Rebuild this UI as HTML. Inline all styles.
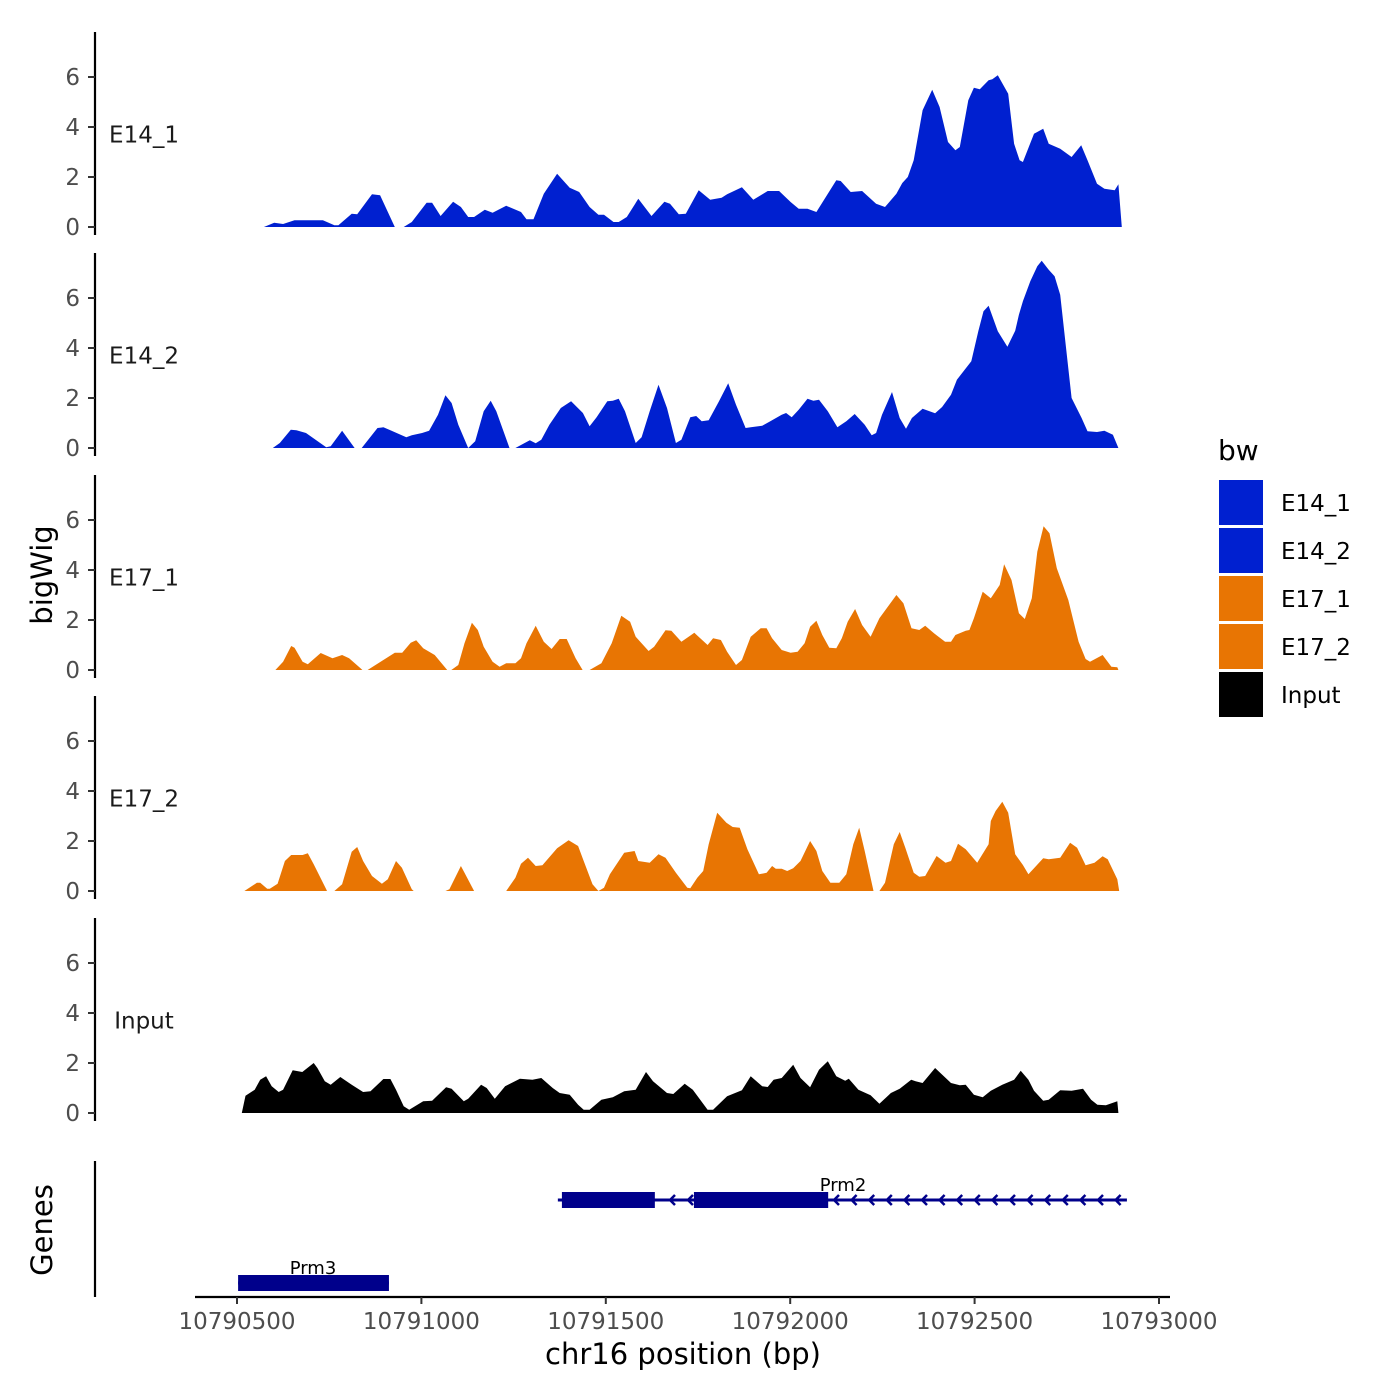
<!DOCTYPE html>
<html><head><meta charset="utf-8">
<style>
html,body{margin:0;padding:0;background:#fff;}
svg{display:block;font-family:"DejaVu Sans","Liberation Sans",sans-serif;}
</style></head>
<body>
<svg id="chart" width="1400" height="1400" viewBox="0 0 1400 1400" xmlns="http://www.w3.org/2000/svg">
<rect width="1400" height="1400" fill="#fff"/>
<g id="tracks"></g>
<g id="genes"></g>
<g id="axes"></g>
<text x="0" y="0" transform="translate(52,575) rotate(-90)" text-anchor="middle" font-size="29" fill="#000">bigWig</text>
<text x="0" y="0" transform="translate(52,1230) rotate(-90)" text-anchor="middle" font-size="29" fill="#000">Genes</text>
<text x="683" y="1364" text-anchor="middle" font-size="29" fill="#000">chr16 position (bp)</text>
<g>
<text x="1218" y="460" font-size="28" fill="#000">bw</text>
<rect x="1219" y="480" width="44" height="45" fill="#0020D0"/>
<rect x="1219" y="528" width="44" height="45" fill="#0020D0"/>
<rect x="1219" y="576" width="44" height="45" fill="#E87503"/>
<rect x="1219" y="624" width="44" height="45" fill="#E87503"/>
<rect x="1219" y="672" width="44" height="45" fill="#000"/>
<text x="1281" y="511" font-size="23" fill="#000">E14_1</text>
<text x="1281" y="559" font-size="23" fill="#000">E14_2</text>
<text x="1281" y="607" font-size="23" fill="#000">E17_1</text>
<text x="1281" y="655" font-size="23" fill="#000">E17_2</text>
<text x="1281" y="703" font-size="23" fill="#000">Input</text>
</g>
</svg>
<script>
const regionStart = 10790500;
const xTicks = [10790500, 10791000, 10791500, 10792000, 10792500, 10793000];
const xTickLabels = ["10790500", "10791000", "10791500", "10792000", "10792500", "10793000"];
const yTicks = [0, 2, 4, 6];
const trackNames = ["E14_1", "E14_2", "E17_1", "E17_2", "Input"];
const trackColors = ["#0020D0", "#0020D0", "#E87503", "#E87503", "#000000"];

// positions: bp offset from regionStart
const pos1 = [73,101,125,156,233,264,275,311,326,366,388,428,452,474,514,529,552,586,607,627,643,672,693,730,770,785,804,832,868,902,928,956,980,995,1021,1035,1057,1088,1124,1159,1174,1198,1217,1252,1283,1314,1329,1369,1400,1439,1470,1501,1523,1547,1571,1625,1637,1664,1695,1733,1757,1788,1804,1819,1835,1859,1885,1905,1928,1948,1960,1983,1998,2014,2038,2048,2063,2091,2107,2122,2131,2161,2186,2201,2232,2263,2289,2306,2332,2352,2380,2390,2399];
const val1 = [0,0.17,0.12,0.27,0.27,0.07,0.07,0.53,0.51,1.31,1.27,0,0,0.2,0.97,0.97,0.44,1.01,0.8,0.4,0.4,0.69,0.57,0.85,0.6,0.31,0.31,1.33,2.13,1.57,1.4,0.8,0.49,0.49,0.2,0.2,0.4,1.13,0.44,1.01,0.93,0.51,0.53,1.47,1.09,1.17,1.31,1.59,1.09,1.44,1.44,1.0,0.73,0.73,0.6,1.87,1.84,1.4,1.44,0.93,0.8,1.33,1.76,2.0,2.67,4.67,5.49,4.8,3.4,3.07,3.2,5.07,5.57,5.51,5.87,5.91,6.07,5.33,3.33,2.67,2.6,3.73,3.93,3.33,3.13,2.8,3.27,2.67,1.73,1.53,1.47,1.71,0];

const pos2 = [97,116,146,161,187,242,254,285,319,338,381,397,416,459,474,502,521,545,565,582,600,627,646,669,688,703,739,755,794,810,825,847,878,906,938,956,975,1004,1019,1035,1052,1081,1097,1119,1143,1166,1190,1205,1229,1245,1260,1279,1307,1332,1353,1379,1393,1424,1446,1477,1489,1504,1523,1547,1563,1578,1602,1628,1652,1675,1702,1721,1733,1749,1776,1797,1814,1830,1859,1893,1912,1936,1952,1991,2010,2024,2038,2063,2089,2110,2120,2131,2151,2170,2182,2201,2217,2232,2247,2263,2290,2306,2332,2352,2375,2390];
const val2 = [0,0.2,0.73,0.71,0.6,0.03,0.07,0.69,0,0,0.8,0.83,0.71,0.43,0.51,0.6,0.69,1.33,2.11,1.8,0.93,0,0.27,1.47,1.89,1.47,0,0,0.31,0.19,0.33,0.93,1.6,1.87,1.4,0.87,1.23,1.87,1.89,1.97,1.47,0.2,0.43,1.47,2.53,1.6,0.2,0.33,1.23,1.28,1.07,1.11,1.87,2.59,1.73,0.8,0.83,0.89,1.07,1.33,1.4,1.23,1.53,1.97,1.89,1.93,1.47,0.83,1.07,1.36,0.93,0.51,0.6,1.33,2.24,1.2,0.77,1.2,1.57,1.39,1.64,2.13,2.73,3.47,4.67,5.47,5.69,4.67,4.05,4.69,5.33,5.87,6.67,7.27,7.49,7.13,6.87,6.13,4.13,2.0,1.2,0.67,0.64,0.69,0.53,0];

const pos3 = [104,125,147,156,178,192,227,259,285,304,335,340,354,428,448,471,486,505,536,570,581,600,617,637,653,669,693,712,730,755,770,785,810,832,853,875,894,918,937,956,988,1016,1042,1066,1081,1116,1131,1162,1178,1205,1240,1276,1291,1312,1329,1353,1369,1393,1420,1436,1451,1477,1501,1520,1539,1554,1571,1587,1606,1625,1640,1656,1676,1695,1718,1742,1788,1807,1829,1850,1866,1890,1920,1936,1948,1976,1986,1998,2022,2044,2068,2080,2100,2120,2136,2155,2170,2187,2203,2223,2254,2282,2301,2313,2347,2371,2387,2390];
const val3 = [0,0.33,0.96,0.89,0.33,0.23,0.68,0.47,0.6,0.47,0.07,0,0,0.69,0.69,1.09,1.19,0.87,0.6,0,0,0.2,1.07,1.89,1.6,0.93,0.33,0.13,0.27,0.27,0.47,1.07,1.77,1.13,0.84,1.24,1.24,0.47,0,0,0.27,1.07,2.17,1.93,1.33,0.76,0.93,1.59,1.57,1.13,1.49,1.0,1.27,1.2,0.73,0.2,0.4,1.33,1.67,1.67,1.27,0.8,0.69,0.73,1.07,1.73,1.97,1.4,0.89,0.87,1.27,1.93,2.44,1.8,1.33,2.07,3.0,2.67,1.67,1.6,1.77,1.47,1.13,1.13,1.4,1.57,1.6,2.07,3.13,2.87,3.4,4.23,3.6,2.27,2.04,2.87,4.73,5.75,5.47,4.07,2.8,1.13,0.44,0.33,0.6,0.13,0.11,0];

const pos4 = [20,54,63,82,89,110,130,147,178,192,208,242,244,264,285,311,326,342,366,393,409,431,447,474,479,565,576,607,617,643,730,755,770,789,810,828,868,899,925,940,964,980,995,1011,1050,1078,1088,1119,1143,1162,1190,1221,1229,1248,1264,1279,1302,1327,1344,1363,1384,1415,1436,1451,1461,1477,1492,1508,1528,1554,1571,1587,1609,1633,1652,1671,1687,1702,1726,1742,1757,1781,1797,1812,1835,1850,1866,1897,1921,1936,1955,1976,2007,2038,2044,2057,2075,2091,2110,2131,2146,2161,2186,2201,2232,2259,2278,2301,2325,2347,2361,2387,2392];
const val4 = [0,0.33,0.33,0.09,0.09,0.29,1.2,1.44,1.44,1.51,1.07,0.07,0,0,0.27,1.57,1.76,1.2,0.6,0.29,0.47,1.2,0.93,0.07,0,0,0.07,1.0,0.73,0,0,0.53,1.09,1.33,1.0,1.03,1.71,2.03,1.8,1.2,0.27,0,0.13,0.67,1.53,1.6,1.2,1.13,1.47,1.33,0.73,0.13,0.11,0.53,0.8,1.87,3.13,2.73,2.56,2.53,1.67,0.67,0.73,1.0,0.89,0.89,0.8,0.91,1.2,2.0,1.6,0.8,0.33,0.33,0.67,1.87,2.53,1.6,0,0,0.33,1.87,2.36,1.73,0.73,0.57,0.6,1.4,1.13,1.2,1.89,1.67,1.13,1.87,2.8,3.2,3.57,3.13,1.47,1.04,0.67,0.91,1.31,1.27,1.33,1.93,1.73,1.03,1.13,1.39,1.27,0.47,0];

const pos5 = [13,23,48,63,79,94,113,125,151,177,208,218,238,254,280,311,342,362,397,416,431,452,467,505,529,567,582,615,627,662,677,699,727,739,767,801,825,856,875,902,925,940,956,988,1019,1050,1081,1109,1128,1166,1183,1214,1236,1276,1291,1329,1369,1393,1424,1439,1455,1477,1508,1528,1554,1578,1602,1625,1649,1659,1685,1718,1742,1773,1797,1828,1840,1859,1893,1936,1960,1976,1998,2022,2044,2075,2107,2125,2146,2161,2186,2201,2232,2263,2294,2316,2333,2356,2387,2390];
const val5 = [0,0.69,0.93,1.33,1.47,1.07,0.84,0.93,1.71,1.64,2.0,1.8,1.27,1.13,1.44,1.13,0.84,0.87,1.36,1.36,0.93,0.27,0.13,0.47,0.49,1.03,0.97,0.47,0.57,1.13,1.0,0.57,1.07,1.16,1.37,1.33,1.4,1.0,0.8,0.73,0.33,0.13,0.13,0.53,0.63,0.87,0.93,1.64,1.27,0.8,0.76,1.17,0.93,0.13,0.13,0.67,0.91,1.47,1.07,1.04,1.33,1.4,1.93,1.4,1.03,1.73,2.07,1.47,1.29,1.37,0.93,0.71,0.37,0.8,0.97,1.33,1.27,1.2,1.8,1.2,1.11,1.13,0.73,0.63,0.89,1.13,1.33,1.69,1.33,0.89,0.49,0.53,0.91,0.89,0.97,0.53,0.33,0.31,0.47,0];

const geneNames = ["Prm2", "Prm3"];
const geneStarts = [10791370, 10790503];
const geneEnds = [10792913, 10790912];
const exonGene = [0, 0, 1];
const exonStarts = [10791381, 10791739, 10790503];
const exonEnds = [10791633, 10792103, 10790912];

const positions = [pos1, pos2, pos3, pos4, pos5];
const values = [val1, val2, val3, val4, val5];

const NS = "http://www.w3.org/2000/svg";
function el(tag, attrs, parent) {
  const e = document.createElementNS(NS, tag);
  for (const k in attrs) e.setAttribute(k, attrs[k]);
  parent.appendChild(e);
  return e;
}
function xScale(bp) { return 237 + (bp - 10790500) * 0.3688; }
const panelTop = [32, 253, 475, 696, 918];
const panelH = 203;
const baseOffset = 195;
function yScale(panel, v) { return panelTop[panel] + baseOffset - v * 25; }

const tracksG = document.getElementById('tracks');
const axesG = document.getElementById('axes');
const genesG = document.getElementById('genes');

for (let t = 0; t < 5; t++) {
  const p = positions[t], v = values[t];
  let d = "M" + xScale(regionStart + p[0]).toFixed(1) + "," + yScale(t, 0).toFixed(1);
  for (let i = 0; i < p.length; i++) {
    d += " L" + xScale(regionStart + p[i]).toFixed(1) + "," + yScale(t, v[i]).toFixed(1);
  }
  d += " L" + xScale(regionStart + p[p.length - 1]).toFixed(1) + "," + yScale(t, 0).toFixed(1) + " Z";
  const area = el('path', {d: d, fill: trackColors[t], 'stroke-linejoin': 'round'}, tracksG);
  
  

  const ax = el('line', {x1: 95, x2: 95, y1: panelTop[t], y2: panelTop[t] + panelH, stroke: '#000', 'stroke-width': 2.2}, axesG);
  
  
  for (const yt of yTicks) {
    const y = yScale(t, yt);
    const tk = el('line', {x1: 88, x2: 95, y1: y, y2: y, stroke: '#333', 'stroke-width': 2}, axesG);
    
    
    const tl = el('text', {x: 80, y: y + 8, 'text-anchor': 'end', 'font-size': 23, fill: '#4d4d4d'}, axesG);
    tl.textContent = String(yt);
    
    
  }
  const lab = el('text', {x: 144, y: yScale(t, 3.7) + 8, 'text-anchor': 'middle', 'font-size': 23, fill: '#1a1a1a'}, tracksG);
  lab.textContent = trackNames[t];
  
  
}

const gAx = el('line', {x1: 95, x2: 95, y1: 1161, y2: 1297, stroke: '#000', 'stroke-width': 2.2}, axesG);


const geneY = [1200, 1283];
for (let g = 0; g < geneNames.length; g++) {
  const x1 = xScale(geneStarts[g]), x2 = xScale(geneEnds[g]), y = geneY[g];
  const ln = el('line', {x1: x1, x2: x2, y1: y, y2: y, stroke: '#00008B', 'stroke-width': 3}, genesG);
  
  
  if (g === 0) {
    for (let ax = 670; ax < x2 - 5; ax += (ax < 700 ? 18 : 17.6)) {
      if (ax >= 694 && ax <= 834) { ax = 834; }
      const ar = el('path', {d: 'M' + (ax + 5) + ',' + (y - 5) + ' L' + ax + ',' + y + ' L' + (ax + 5) + ',' + (y + 5), fill: 'none', stroke: '#00008B', 'stroke-width': 2.5}, genesG);
      
      
    }
  }
}
for (let e = 0; e < exonStarts.length; e++) {
  const g = exonGene[e];
  const r = el('rect', {x: xScale(exonStarts[e]), y: geneY[g] - 8, width: xScale(exonEnds[e]) - xScale(exonStarts[e]), height: 16, fill: '#00008B'}, genesG);
  
  
}
const gl1 = el('text', {x: 843, y: 1191, 'text-anchor': 'middle', 'font-size': 18, fill: '#000'}, genesG);
gl1.textContent = geneNames[0];


const gl2 = el('text', {x: 313, y: 1274, 'text-anchor': 'middle', 'font-size': 18, fill: '#000'}, genesG);
gl2.textContent = geneNames[1];



const xl = el('line', {x1: 195, x2: 1170, y1: 1297, y2: 1297, stroke: '#000', 'stroke-width': 2.2}, axesG);


for (let i = 0; i < xTicks.length; i++) {
  const x = xScale(xTicks[i]);
  const tk = el('line', {x1: x, x2: x, y1: 1297, y2: 1304, stroke: '#333', 'stroke-width': 2}, axesG);
  
  
  const tl = el('text', {x: x, y: 1329, 'text-anchor': 'middle', 'font-size': 23, fill: '#4d4d4d'}, axesG);
  tl.textContent = xTickLabels[i];
  
  
}
</script>
</body></html>
